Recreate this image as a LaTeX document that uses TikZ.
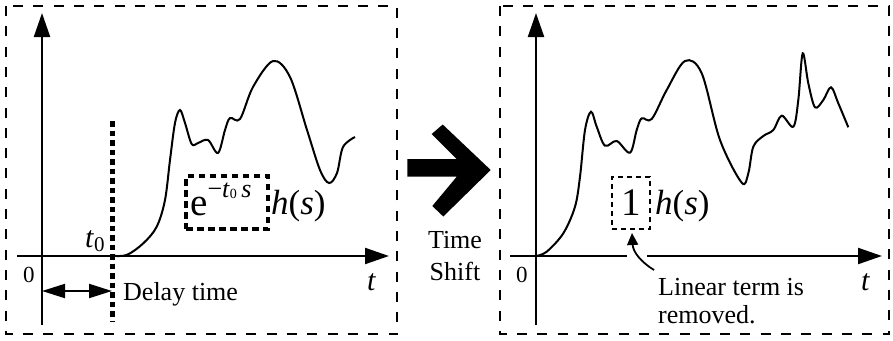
\documentclass[tikz,border=0pt]{standalone}
\usepackage{fontspec}
\setmainfont{Liberation Serif}
\usetikzlibrary{arrows.meta}
\tikzset{
 frame/.style={draw, line width=1.7pt, dash pattern=on 10pt off 10.3pt},
 axisline/.style={line width=2.1pt, -{Triangle[length=24pt,width=16pt]}},
 curveline/.style={line width=2pt, smooth, tension=0.55},
 lbl/.style={inner sep=0pt, font=\fontsize{26}{28}\selectfont},
 thickbox/.style={draw, line width=4pt, dash pattern=on 6.5pt off 4.5pt},
 thinbox/.style={draw, line width=1.6pt, dash pattern=on 5pt off 4pt},
}
\begin{document}
\begin{tikzpicture}[x=1pt,y=-1pt]
\useasboundingbox (0,0) rectangle (893,340);
% frames
\draw[frame] (6,6) rectangle (397,334);
\draw[frame] (500,6) rectangle (889,334);

% ---------------- left panel ----------------
\coordinate (LYa) at (42,325);
\coordinate (LYb) at (42,13);
\coordinate (LXa) at (17,256);
\coordinate (LXb) at (389,256);
\draw[axisline] (LYa) -- (LYb);
\draw[axisline] (LXa) -- (LXb);

\draw[curveline] plot coordinates {(112.3,255.7) (126.7,255) (143.3,243.3) (156.7,226.7) (165,200) (170,160) (175,123) (180,110) (185,123) (191.7,144) (198,143) (208,140) (218,153) (225,130) (230,118) (240,119) (253,87) (273,61) (290,77) (307,130) (320,170) (329,183) (337,173) (343,147) (355,137)};

\coordinate (D0) at (112,121);
\coordinate (D1) at (112,322);
\draw[line width=5pt, dash pattern=on 5.5pt off 4pt] (D0) -- (D1);

\coordinate (DA) at (42,291);
\coordinate (DB) at (112,291);
\draw[line width=2pt, {Triangle[length=23pt,width=14pt]}-{Triangle[length=23pt,width=14pt]}] (DA) -- (DB);

\node[lbl, anchor=base west] (delay) at (123,300) {Delay time};
\node[inner sep=0pt, anchor=base west, font=\fontsize{23}{23}\selectfont] (zeroL) at (23,282) {0};
\node[inner sep=0pt, anchor=base west, font=\fontsize{30}{30}\selectfont] (tL) at (367,290) {\textit{t}};
\node[inner sep=0pt, anchor=base west, font=\fontsize{30}{30}\selectfont] (t0) at (85,247) {\textit{t}\raisebox{-4pt}{\fontsize{21}{21}\selectfont 0}};

\node[thickbox, minimum width=82pt, minimum height=53pt, inner sep=0pt] (ebox) at (227,202.5) {};
\node[inner sep=0pt, anchor=base west, font=\fontsize{39}{39}\selectfont] (expo) at (190,215)
 {e\raisebox{18pt}{\fontsize{26}{26}\selectfont −\textit{t}\raisebox{-1pt}{\fontsize{14}{14}\selectfont 0}\,\textit{s}}};
\node[inner sep=0pt, anchor=base west, font=\fontsize{35}{35}\selectfont] (hsL) at (271,214) {\textit{h}(\textit{s})};

% ---------------- middle arrow ----------------
\fill (407.3,159) -- (456.7,159) -- (431.7,134) -- (442.7,124.5) -- (490.7,170) -- (443.3,216.5) -- (432.3,206) -- (456.7,176.7) -- (407.3,176.7) -- cycle;
\node[lbl, align=center, anchor=base, font=\fontsize{26}{32}\selectfont] (shift) at (455,280) {Time\\Shift};

% ---------------- right panel ----------------
\coordinate (RYa) at (536,325);
\coordinate (RYb) at (536,13);
\coordinate (RXa) at (510,256);
\coordinate (RXb) at (882,256);
\draw[axisline] (RYa) -- (RYb);
\draw[axisline] (RXa) -- (RXb);

\draw[curveline] plot coordinates {(536,256) (546.7,251.7) (563.3,233.3) (575,206.7) (580,176.7) (585,130) (591,111.7) (596.7,126.7) (605,145.7) (616.7,141) (630,152.7) (636.7,130) (641.7,118.3) (651.7,119) (666.7,90) (685,61) (701.7,73.3) (720,140) (741.7,182.7) (748.3,173.3) (753.3,146.7) (763.3,136) (773.3,130) (781.7,115.7) (793.3,126.7) (798.3,100) (802.7,53.3) (808.3,83.3) (815,107.3) (823.3,100) (831,87.3) (838.3,103.3) (848.3,127.3)};

\node[inner sep=0pt, anchor=base west, font=\fontsize{23}{23}\selectfont] (zeroR) at (516,282) {0};
\node[inner sep=0pt, anchor=base west, font=\fontsize{30}{30}\selectfont] (tR) at (861,290) {\textit{t}};

\node[thinbox, minimum width=38pt, minimum height=52pt, inner sep=0pt] (onebox) at (631,203) {};
\node[inner sep=0pt, anchor=base, font=\fontsize{39}{39}\selectfont] (one) at (631,215) {1};
\node[inner sep=0pt, anchor=base west, font=\fontsize{35}{35}\selectfont] (hsR) at (655,214) {\textit{h}(\textit{s})};

\node[lbl, anchor=base west, align=left] (lin) at (658,323) {Linear term is\\removed.};
\fill[white] (627,252) rectangle (647,260);
\coordinate (tail) at (654,270);
\coordinate (tip) at (632,233);
\draw[line width=1.8pt, -{Triangle[length=12pt,width=11pt]}] (tail) .. controls (641,262) and (633,252) .. (tip);
\end{tikzpicture}
\end{document}
